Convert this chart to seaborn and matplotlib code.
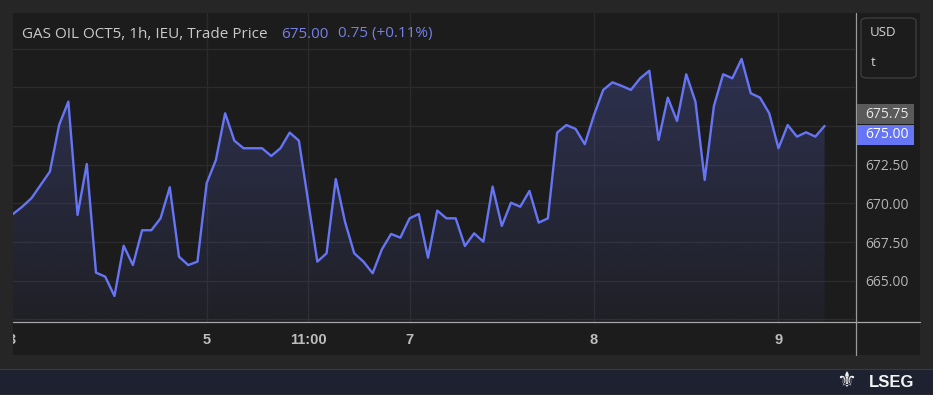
import numpy as np
import pandas as pd
import matplotlib
matplotlib.use("Agg")
import matplotlib.pyplot as plt
import seaborn as sns
from matplotlib.patches import Rectangle, FancyBboxPatch
from matplotlib.lines import Line2D

# ---------------- data ----------------
title_text = "GAS OIL OCT5, 1h, IEU, Trade Price"
last_text = "675.00"
change_text = "0.75 (+0.11%)"
currency = "USD"
unit = "t"
brand = "LSEG"

prices = [
    669.31, 669.78, 670.33, 671.19, 672.05, 675.06, 676.57, 669.25, 672.54, 665.52,
    665.26, 664.01, 667.26, 666.01, 668.26, 668.26, 669.03, 671.04, 666.55, 666.01,
    666.23, 671.30, 672.80, 675.82, 674.05, 673.56, 673.56, 673.56, 673.06, 673.56,
    674.57, 674.05, 670.15, 666.23, 666.77, 671.57, 668.81, 666.77, 666.23, 665.48,
    667.03, 668.02, 667.78, 669.03, 669.31, 666.49, 669.53, 669.03, 669.03, 667.24,
    668.06, 667.52, 671.08, 668.54, 670.04, 669.78, 670.80, 668.75, 669.03, 674.57,
    675.06, 674.81, 673.82, 675.71, 677.33, 677.82, 677.59, 677.33, 678.08, 678.57,
    674.10, 676.83, 675.32, 678.34, 676.57, 671.51, 676.29, 678.34, 678.08, 679.33,
    677.11, 676.83, 675.82, 673.56, 675.06, 674.31, 674.59, 674.31, 675.00,
]
x_tick_pos = [21, 32, 43, 63, 83]
x_tick_labels = ["5", "11:00", "7", "8", "9"]
edge_label = "3"
edge_label_pos = -0.1
y_grid = [662.5, 665.0, 667.5, 670.0, 672.5, 675.0, 677.5, 680.0]
y_labels = ["", "665.00", "667.50", "670.00", "672.50", "", "", ""]
last_price = 675.00
ref_price = 675.75

# ---------------- style ----------------
LINE = "#6675f5"
PANEL = "#1c1c1c"
OUTER = "#262626"
GRID = "#2b2b2b"
AXFONT = ["Liberation Sans", "DejaVu Sans"]

sns.set_theme(style="dark")
plt.rcParams["font.family"] = ["Open Sans", "DejaVu Sans"]

W, H = 933, 395
fig = plt.figure(figsize=(W / 100, H / 100), dpi=100)
fig.patch.set_facecolor(OUTER)


def fx(px):
    return px / W


def fy(py):
    return 1 - py / H


# panel & bottom strip
fig.add_artist(Rectangle((fx(13), fy(355)), (920 - 13) / W, (355 - 13) / H,
                         transform=fig.transFigure, facecolor=PANEL, edgecolor="none", zorder=0))
fig.add_artist(Rectangle((0, 0), 1, 26 / H, transform=fig.transFigure,
                         facecolor="#1e2230", edgecolor="none", zorder=0))
fig.add_artist(Line2D([0, 1], [fy(369), fy(369)], transform=fig.transFigure,
                      color="#343a48", linewidth=0.8, zorder=1))
fig.add_artist(Line2D([0, 1], [fy(394.5), fy(394.5)], transform=fig.transFigure,
                      color="#cfd2d8", linewidth=0.8, zorder=1))

ax = fig.add_axes([fx(13), fy(322), (855 - 13) / W, (322 - 13) / H])
ax.set_facecolor("none")

df = pd.DataFrame({"i": np.arange(len(prices)), "price": prices})
sns.lineplot(data=df, x="i", y="price", ax=ax, color=LINE, linewidth=1.7, zorder=4)

x0, x1 = 0.0, 91.3
y0, y1 = 662.33, 682.3
ax.set_xlim(x0, x1)
ax.set_ylim(y0, y1)

# gradient fill under the line
grad = np.zeros((256, 1, 4))
rgb = matplotlib.colors.to_rgb(LINE)
grad[..., 0], grad[..., 1], grad[..., 2] = rgb
grad[..., 3] = np.linspace(0.05, 0.24, 256).reshape(-1, 1)
im = ax.imshow(grad, extent=[x0, x1, y0, max(prices)], origin="lower",
               aspect="auto", zorder=2, interpolation="bilinear")
poly = ax.fill_between(df["i"], df["price"], y0, facecolor="none", edgecolor="none")
im.set_clip_path(poly.get_paths()[0], transform=ax.transData)
ax.set_xlim(x0, x1)
ax.set_ylim(y0, y1)

# ticks / grid
ax.set_yticks(y_grid, y_labels)
ax.set_xticks(x_tick_pos, x_tick_labels)
ax.grid(True, color=GRID, linewidth=1.0, zorder=0)
ax.yaxis.tick_right()
ax.tick_params(axis="both", length=0)
ax.tick_params(axis="y", pad=7.5, labelcolor="#b4b4b4", labelsize=10)
ax.tick_params(axis="x", pad=8, labelcolor="#bdbdbd", labelsize=10.5)
for lab in ax.get_xticklabels():
    lab.set_family(AXFONT)
    lab.set_fontweight("bold")
ax.set_xlabel("")
ax.set_ylabel("")
for s in ax.spines.values():
    s.set_visible(False)

# clipped left-edge date label
edge = ax.text(edge_label_pos, -0.057, edge_label, transform=ax.get_xaxis_transform(),
               ha="center", va="center", fontsize=10.5, color="#bdbdbd", fontweight="bold",
               family=AXFONT)
clip_rect = Rectangle((fx(13), 0), 1, 1, transform=fig.transFigure)
edge.set_clip_path(clip_rect)
edge.set_clip_on(True)

# axis lines
fig.add_artist(Line2D([fx(13), fx(920)], [fy(322), fy(322)], transform=fig.transFigure,
                      color="#a8a8a8", linewidth=0.9, zorder=5))
fig.add_artist(Line2D([fx(856), fx(856)], [fy(13), fy(355)], transform=fig.transFigure,
                      color="#9a9a9a", linewidth=0.9, zorder=5))

# title
fig.text(fx(22), fy(37.5), title_text, color="#c9c9c9", fontsize=11, va="baseline")
fig.text(fx(281), fy(37.5), last_text, color="#7480e6", fontsize=11, va="baseline")
fig.text(fx(338), fy(37.5), change_text, color="#7480e6", fontsize=11, va="baseline")

# currency box
fig.add_artist(FancyBboxPatch((fx(861), fy(78)), (916 - 861) / W, (78 - 18) / H,
                              boxstyle="round,pad=0,rounding_size=0.008",
                              transform=fig.transFigure, facecolor=PANEL,
                              edgecolor="#3c3c3c", linewidth=1.0, zorder=3))
fig.text(fx(870), fy(33), currency, color="#d4d4d4", fontsize=9.5, va="center")
fig.text(fx(871), fy(63), unit, color="#d4d4d4", fontsize=9.5, va="center")

# price boxes on the right scale
fig.canvas.draw()
ref_py = H - ax.transData.transform((0, ref_price))[1]
box_h = 20
gray_top = ref_py - box_h / 2
fig.add_artist(Rectangle((fx(857), fy(gray_top + box_h)), (914 - 857) / W, box_h / H,
                         transform=fig.transFigure, facecolor="#5a5a5a", edgecolor="none", zorder=6))
fig.text(fx(865), fy(gray_top + box_h / 2), f"{ref_price:.2f}", color="#e6e6e6",
         fontsize=10, va="center", zorder=7)
blue_top = gray_top + box_h + 0.5
fig.add_artist(Rectangle((fx(856.5), fy(blue_top + box_h)), (914 - 856.5) / W, box_h / H,
                         transform=fig.transFigure, facecolor=LINE, edgecolor="none", zorder=6))
fig.text(fx(865), fy(blue_top + box_h / 2), f"{last_price:.2f}", color="#ffffff",
         fontsize=10, va="center", zorder=7)

# brand
fig.text(fx(846), fy(381), "\u269C", color="#f0f0f0", fontsize=16, ha="center", va="center",
         family="DejaVu Sans")
fig.text(fx(869), fy(382.5), brand, color="#f4f4f4", fontsize=12, fontweight="bold",
         va="center", family=AXFONT)

fig.savefig("out.png", dpi=100, facecolor=fig.get_facecolor())
